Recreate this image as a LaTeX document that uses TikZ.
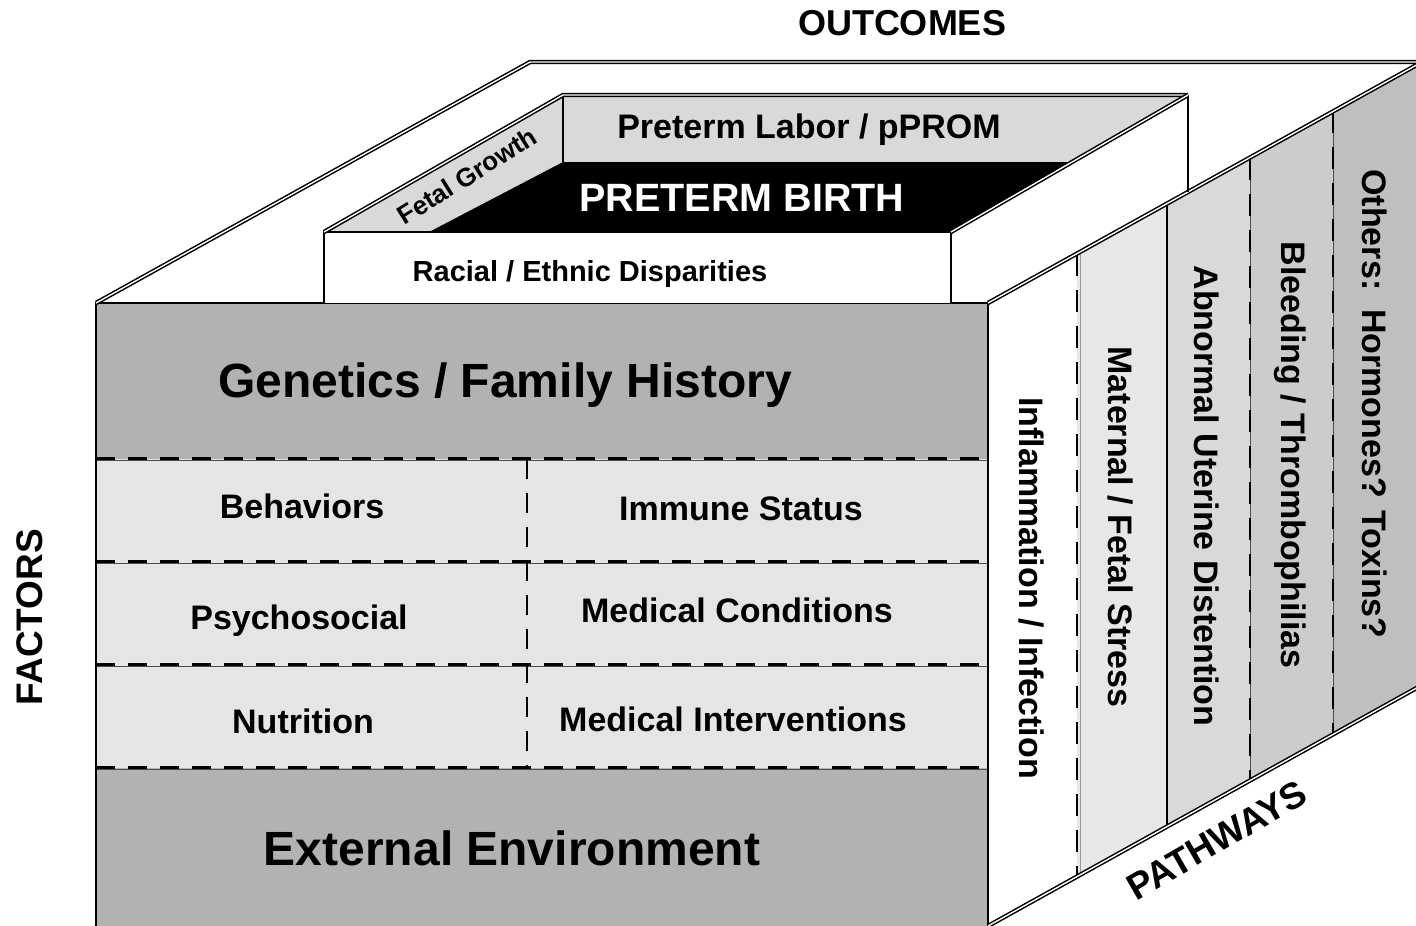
\documentclass[tikz,border=0pt]{standalone}
\usepackage{fontspec}
\setmainfont{Liberation Sans}
\usetikzlibrary{calc}
\definecolor{bandgray}{gray}{0.70}
\definecolor{rowgray}{gray}{0.90}
\definecolor{wallgray}{gray}{0.85}
\definecolor{stripA}{gray}{0.905}
\definecolor{stripB}{gray}{0.85}
\definecolor{stripC}{gray}{0.80}
\definecolor{stripD}{gray}{0.75}
\newcommand{\fs}[1]{\fontsize{#1}{#1}\selectfont\bfseries}

\begin{document}
\begin{tikzpicture}[x=1pt,y=-1pt,
  rim/.style={draw=black,line width=1.5pt,double=white,double distance=1.4pt},
  frame/.style={draw=black,line width=2.2pt},
  hairline/.style={draw=black!70,line width=0.8pt},
  dashrule/.style={draw=black,line width=2.4pt,dash pattern=on 19pt off 13pt},
  vdash/.style={draw=black,line width=2.2pt,dash pattern=on 22pt off 14pt},
  lbl/.style={inner sep=0pt,anchor=center}]
\useasboundingbox (0,0) rectangle (1416,926);
\clip (0,0) rectangle (1416,926);

% ---- corners of the big block ----
\coordinate (ftl) at (96,303);
\coordinate (ftr) at (988,303);
\coordinate (fbl) at (96,926);
\coordinate (fbr) at (988,926);
\coordinate (btl) at (530,62);
\coordinate (btr) at (1422,62);
\coordinate (bbr) at (1422,685);

% ---- right face: pathway strips ----
\foreach \a/\b/\c in {0/0.2051/white,0.2051/0.4124/stripA,0.4124/0.6037/stripB,0.6037/0.7949/stripC,0.7949/1/stripD}
  \fill[\c] ($(ftr)!\a!(btr)$) -- ($(ftr)!\b!(btr)$) -- ($(fbr)!\b!(bbr)$) -- ($(fbr)!\a!(bbr)$) -- cycle;
\foreach \t/\n in {0.2051/1,0.4124/2,0.6037/3,0.7949/4}{
  \coordinate (s\n t) at ($(ftr)!\t!(btr)$);
  \coordinate (s\n b) at ($(fbr)!\t!(bbr)$);
}
\draw[hairline,draw=black!40] ($(s1t)+(3,0)$) -- ($(s1b)+(3,0)$);
\draw[vdash] (s1t) -- (s1b);
\draw[draw=black,line width=1.4pt] (s2t) -- (s2b);
\draw[hairline] (s3t) -- (s3b);
\draw[vdash] (s3t) -- (s3b);
\draw[hairline] (s4t) -- (s4b);
\draw[vdash] (s4t) -- (s4b);

% ---- front face: factor bands ----
\fill[bandgray] (96,303) rectangle (988,459);
\fill[rowgray] (96,459) rectangle (988,768);
\fill[bandgray] (96,768) rectangle (988,926);
\foreach \y in {459,562,665,768}{
  \draw[hairline] (96,\y+1) -- (988,\y+1);
  \draw[dashrule] (96,\y-0.5) -- (988,\y-0.5);
}
\draw[vdash,line width=1.6pt,dash pattern=on 20pt off 14pt] (527,459) -- (527,768);
\draw[frame] (fbl) -- (ftl) -- (ftr) -- (fbr);

% ---- edges of the block ----
\draw[rim] (ftl) -- (btl) -- (btr);
\draw[rim] (ftr) -- (btr);
\draw[rim] (fbr) -- (bbr);

% ---- raised inner box ----
\coordinate (ia) at (324,232);
\coordinate (ib) at (951,232);
\coordinate (ic) at (563,95);
\coordinate (id) at (1188,95);
\coordinate (iw) at (563,162);
\coordinate (ie) at (1071,162);
\coordinate (ig) at (429,232);
\fill[white] (324,232) rectangle (951,303);
\fill[wallgray] (ic) -- (id) -- (ie) -- (iw) -- cycle;
\fill[wallgray] (ia) -- (ic) -- (iw) -- (ig) -- cycle;
\fill[black] (ig) -- (iw) -- (ie) -- (ib) -- cycle;
\draw[frame] (324,303) -- (ia) -- (ib) -- (951,303);
\draw[draw=black,line width=2.6pt] (ic) -- (iw);
\draw[draw=black,line width=1.8pt] (id) -- (1188,192);
\draw[rim] (ia) -- (ic) -- (id);
\draw[rim] (ib) -- (id);

% ---- labels ----
\node[lbl] (outcomes) at (902,23) {\fs{36}OUTCOMES};
\node[lbl,rotate=90] (factors) at (30,617) {\fs{37}FACTORS};
\node[lbl,rotate=30] (pathways) at (1217,840) {\fs{37}PATHWAYS};

\node[lbl] (plabor) at (809,130) {\fs{34}Preterm Labor / pPROM};
\node[lbl,text=white] (ptb) at (742,198) {\fs{39.5}PRETERM BIRTH};
\node[lbl] (racial) at (590,274) {\fs{29}Racial / Ethnic Disparities};
\node[lbl,rotate=32] (fetal) at (467,176) {\fs{26}Fetal Growth};

\node[lbl] (genetics) at (505,385) {\fs{48}Genetics / Family History};
\node[lbl] (external) at (512,848) {\fs{48}External Environment};
\node[lbl] (behav) at (302,506) {\fs{34}Behaviors};
\node[lbl] (immune) at (741,509) {\fs{34}Immune Status};
\node[lbl] (psycho) at (299,621) {\fs{34}Psychosocial};
\node[lbl] (medcond) at (737,610) {\fs{34}Medical Conditions};
\node[lbl] (nutr) at (303,721) {\fs{34}Nutrition};
\node[lbl] (medint) at (733,719) {\fs{34}Medical Interventions};

\node[lbl,rotate=-90] (infl) at (1031,588) {\fs{34}Inflammation / Infection};
\node[lbl,rotate=-90] (matern) at (1120,527) {\fs{34}Maternal / Fetal Stress};
\node[lbl,rotate=-90] (uterine) at (1207,496) {\fs{34}Abnormal Uterine Distention};
\node[lbl,rotate=-90] (bleed) at (1290,455) {\fs{34}Bleeding / Thrombophilias};
\node[lbl,rotate=-90] (others) at (1375,404) {\fs{34}Others:\ \ Hormones? Toxins?};
\end{tikzpicture}
\end{document}
